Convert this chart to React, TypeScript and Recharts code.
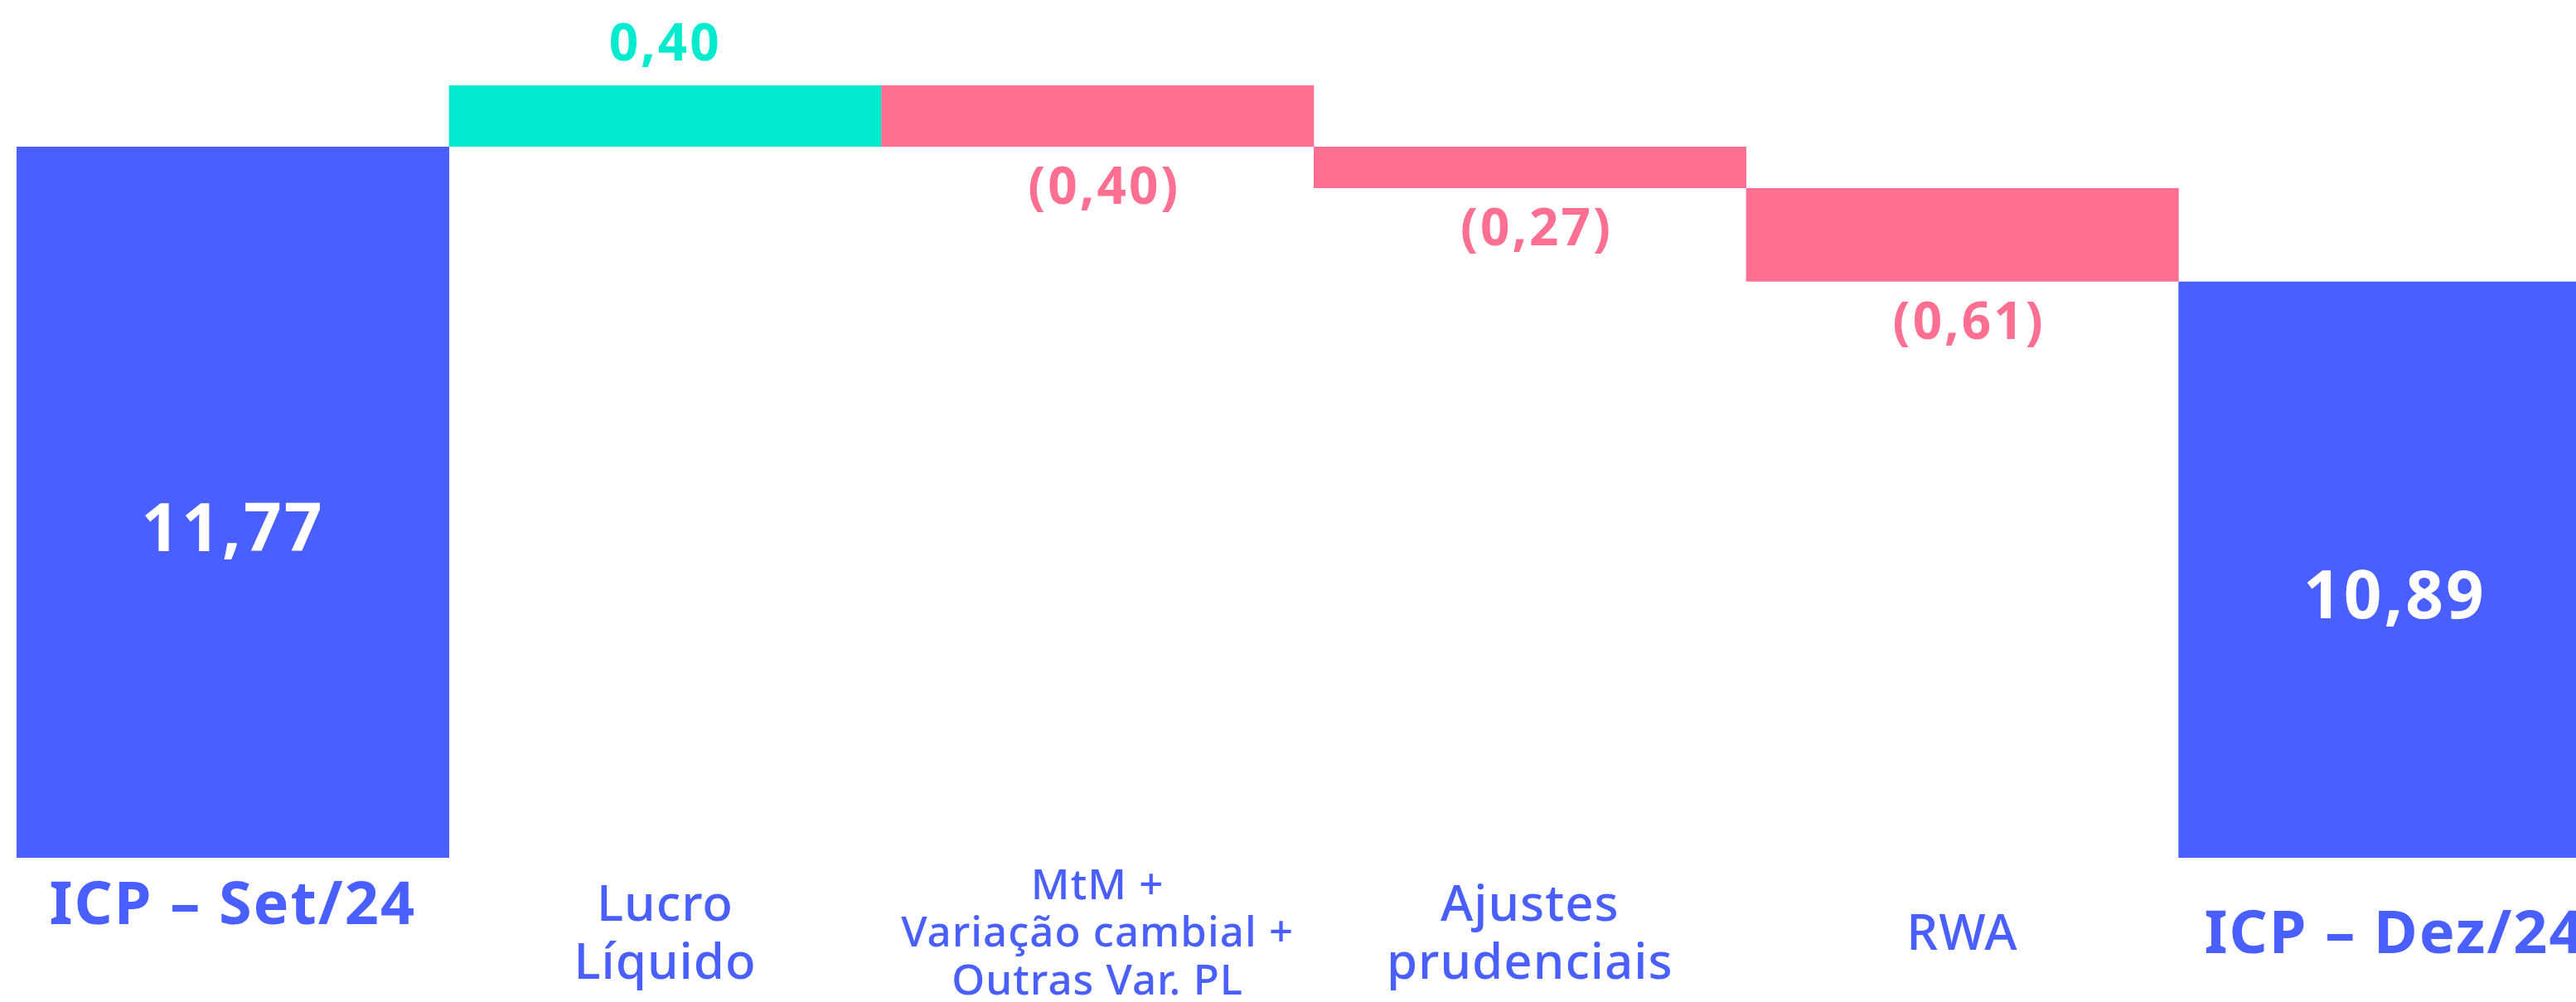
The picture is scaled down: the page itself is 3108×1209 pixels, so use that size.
import { BarChart, Bar, XAxis, YAxis, Cell, LabelList } from 'recharts';

const categories = [
  'ICP – Set/24',
  'Lucro Líquido',
  'MtM + Variação cambial + Outras Var. PL',
  'Ajustes prudenciais',
  'RWA',
  'ICP – Dez/24',
];
const tickLines = [
  ['ICP – Set/24', ''],
  ['Lucro', 'Líquido'],
  ['MtM +', 'Variação cambial +', 'Outras Var. PL'],
  ['Ajustes', 'prudenciais'],
  ['RWA'],
  ['ICP – Dez/24'],
];
const kinds = ['total', 'delta', 'delta', 'delta', 'delta', 'total'];
const values = [11.77, 0.4, -0.4, -0.27, -0.61, 10.89];
const valueLabels = ['11,77', '0,40', '(0,40)', '(0,27)', '(0,61)', '10,89'];

const Y_DOMAIN: [number, number] = [7.13, 12.5];

const BLUE = '#4A5FFF';
const TEAL = '#03EBCF';
const PINK = '#FF6F91';
const FONT = '"Noto Sans", "Open Sans", sans-serif';

// waterfall: totals sit on the axis floor, deltas float from the running total
let running = 0;
const data = categories.map((name, i) => {
  const v = values[i];
  let range: [number, number];
  if (kinds[i] === 'total') {
    range = [Y_DOMAIN[0], v];
    running = v;
  } else {
    const next = running + v;
    range = [Math.min(running, next), Math.max(running, next)];
    running = next;
  }
  return {
    name,
    range,
    totalLabel: kinds[i] === 'total' ? valueLabels[i] : null,
    upLabel: kinds[i] === 'delta' && v > 0 ? valueLabels[i] : null,
    downLabel: kinds[i] === 'delta' && v < 0 ? valueLabels[i] : null,
  };
});

const colorFor = (i: number) => (kinds[i] === 'total' ? BLUE : values[i] > 0 ? TEAL : PINK);

const box = (props: any) => {
  const vb = props.viewBox ?? props;
  return { x: Number(vb.x), y: Number(vb.y), w: Number(vb.width), h: Number(vb.height) };
};

const TotalLabel = (props: any) => {
  if (props.value == null) return null;
  const { x, y, w, h } = box(props);
  return (
    <text x={x + w / 2} y={y + h / 2 + 30 + 29} textAnchor="middle" fill="#fff" fontFamily={FONT} fontWeight={700} fontSize={80} letterSpacing={3}>
      {props.value}
    </text>
  );
};

const UpLabel = (props: any) => {
  if (props.value == null) return null;
  const { x, y, w } = box(props);
  return (
    <text x={x + w / 2} y={y - 30} textAnchor="middle" fill={TEAL} fontFamily={FONT} fontWeight={700} fontSize={62} letterSpacing={3}>
      {props.value}
    </text>
  );
};

const DownLabel = (props: any) => {
  if (props.value == null) return null;
  const { x, y, w, h } = box(props);
  return (
    <text x={x + w / 2 + 8} y={y + h + 69} textAnchor="middle" fill={PINK} fontFamily={FONT} fontWeight={700} fontSize={62} letterSpacing={3}>
      {props.value}
    </text>
  );
};

const CategoryTick = ({ x, y, payload }: any) => {
  const i = categories.indexOf(payload.value);
  const lines = tickLines[i] ?? [payload.value];
  const isTotal = kinds[i] === 'total';
  const fs = isTotal ? 72 : lines.length > 2 ? 51 : 60;
  const lh = lines.length > 2 ? 57.5 : 70;
  const center = y + 89;
  const n = lines.length;
  return (
    <g>
      {lines.map((line, k) => (
        <text
          key={k}
          x={x}
          y={center + (k - (n - 1) / 2) * lh + fs * 0.36}
          textAnchor="middle"
          fill={BLUE}
          fontFamily={FONT}
          fontWeight={isTotal ? 700 : 500}
          fontSize={fs}
          letterSpacing={isTotal ? 2 : 1}
        >
          {line}
        </text>
      ))}
    </g>
  );
};

export default function App() {
  return (
    <div style={{ position: 'fixed', top: 0, left: 0, width: 3108, height: 1209, overflow: 'hidden', background: '#fff' }}>
      <BarChart
        width={3150}
        height={1209}
        data={data}
        margin={{ top: 42, right: 0, left: 20, bottom: 0 }}
        barCategoryGap={0}
        barGap={0}
      >
        <XAxis
          dataKey="name"
          interval={0}
          axisLine={false}
          tickLine={false}
          tickSize={0}
          tickMargin={0}
          height={174}
          tick={<CategoryTick />}
        />
        <YAxis hide domain={Y_DOMAIN} allowDataOverflow />
        <Bar dataKey="range" isAnimationActive={false}>
          {data.map((d, i) => (
            <Cell key={d.name} fill={colorFor(i)} />
          ))}
          <LabelList dataKey="totalLabel" content={<TotalLabel />} />
          <LabelList dataKey="upLabel" content={<UpLabel />} />
          <LabelList dataKey="downLabel" content={<DownLabel />} />
        </Bar>
      </BarChart>
    </div>
  );
}
